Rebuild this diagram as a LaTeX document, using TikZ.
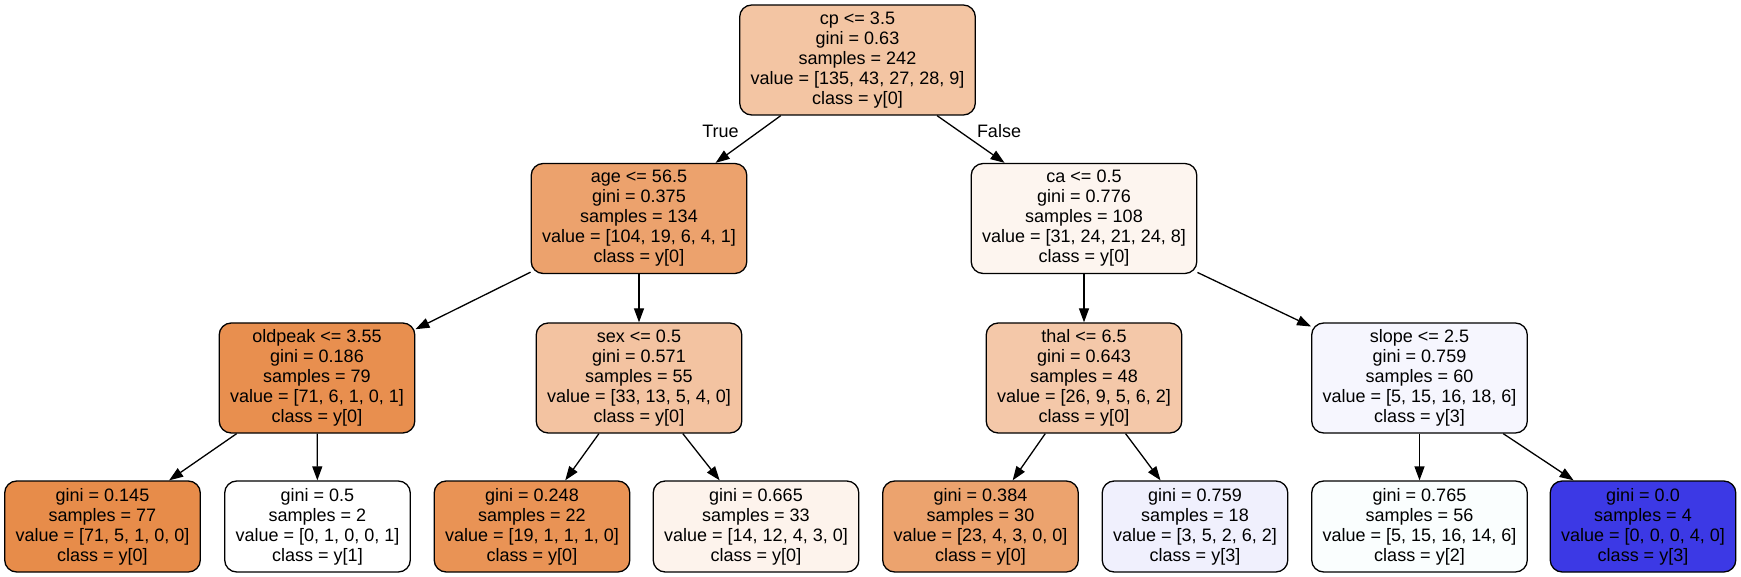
\documentclass[tikz,border=0pt]{standalone}
\usepackage{fontspec}
\setmainfont{Liberation Sans}
\usetikzlibrary{arrows.meta}

% fill colours of the nodes
\definecolor{fillRoot}{RGB}{243,197,163}
\definecolor{fillAge}{RGB}{236,162,109}
\definecolor{fillCa}{RGB}{253,245,239}
\definecolor{fillOldpeak}{RGB}{232,143,79}
\definecolor{fillSex}{RGB}{243,195,161}
\definecolor{fillThal}{RGB}{244,200,169}
\definecolor{fillSlope}{RGB}{246,246,254}
\definecolor{fillLeafA}{RGB}{231,140,74}
\definecolor{fillLeafB}{RGB}{255,255,255}
\definecolor{fillLeafC}{RGB}{233,147,85}
\definecolor{fillLeafD}{RGB}{253,243,236}
\definecolor{fillLeafE}{RGB}{236,163,110}
\definecolor{fillLeafF}{RGB}{240,240,253}
\definecolor{fillLeafG}{RGB}{250,254,254}
\definecolor{fillLeafH}{RGB}{60,57,229}

\tikzset{
  treenode/.style={draw=black, line width=0.65pt, rounded corners=6pt, align=center,
    inner xsep=5.5pt, inner ysep=0pt, font=\fontsize{9}{10}\selectfont},
  split/.style={treenode, minimum height=55pt},
  leaf/.style={treenode, minimum height=45.5pt},
  edgelabel/.style={font=\fontsize{9}{10}\selectfont, inner sep=0pt},
}

\begin{document}
\begin{tikzpicture}[x=0.5pt, y=-0.5pt, >={Triangle[length=7pt,width=5pt]}, line width=0.65pt]
  \useasboundingbox (0,0) rectangle (1741,577);
  % root
  \node[split, fill=fillRoot] (root) at (857.5,60)
    {cp <= 3.5 \\ gini = 0.63 \\ samples = 242 \\ value = [135, 43, 27, 28, 9] \\ class = y[0]};
  % first level
  \node[split, fill=fillAge] (age) at (639,218.5)
    {age <= 56.5 \\ gini = 0.375 \\ samples = 134 \\ value = [104, 19, 6, 4, 1] \\ class = y[0]};
  \node[split, fill=fillCa] (ca) at (1084,218.5)
    {ca <= 0.5 \\ gini = 0.776 \\ samples = 108 \\ value = [31, 24, 21, 24, 8] \\ class = y[0]};
  % second level
  \node[split, fill=fillOldpeak] (oldpeak) at (317,378)
    {oldpeak <= 3.55 \\ gini = 0.186 \\ samples = 79 \\ value = [71, 6, 1, 0, 1] \\ class = y[0]};
  \node[split, fill=fillSex] (sex) at (639,378)
    {sex <= 0.5 \\ gini = 0.571 \\ samples = 55 \\ value = [33, 13, 5, 4, 0] \\ class = y[0]};
  \node[split, fill=fillThal] (thal) at (1084,378)
    {thal <= 6.5 \\ gini = 0.643 \\ samples = 48 \\ value = [26, 9, 5, 6, 2] \\ class = y[0]};
  \node[split, fill=fillSlope] (slope) at (1419.5,378)
    {slope <= 2.5 \\ gini = 0.759 \\ samples = 60 \\ value = [5, 15, 16, 18, 6] \\ class = y[3]};
  % leaves
  \node[leaf, fill=fillLeafA] (leafA) at (102.5,526.5)
    {gini = 0.145 \\ samples = 77 \\ value = [71, 5, 1, 0, 0] \\ class = y[0]};
  \node[leaf, fill=fillLeafB] (leafB) at (317.5,526.5)
    {gini = 0.5 \\ samples = 2 \\ value = [0, 1, 0, 0, 1] \\ class = y[1]};
  \node[leaf, fill=fillLeafC] (leafC) at (532,526.5)
    {gini = 0.248 \\ samples = 22 \\ value = [19, 1, 1, 1, 0] \\ class = y[0]};
  \node[leaf, fill=fillLeafD] (leafD) at (756,526.5)
    {gini = 0.665 \\ samples = 33 \\ value = [14, 12, 4, 3, 0] \\ class = y[0]};
  \node[leaf, fill=fillLeafE] (leafE) at (980.5,526.5)
    {gini = 0.384 \\ samples = 30 \\ value = [23, 4, 3, 0, 0] \\ class = y[0]};
  \node[leaf, fill=fillLeafF] (leafF) at (1195,526.5)
    {gini = 0.759 \\ samples = 18 \\ value = [3, 5, 2, 6, 2] \\ class = y[3]};
  \node[leaf, fill=fillLeafG] (leafG) at (1419.5,526.5)
    {gini = 0.765 \\ samples = 56 \\ value = [5, 15, 16, 14, 6] \\ class = y[2]};
  \node[leaf, fill=fillLeafH] (leafH) at (1643,526.5)
    {gini = 0.0 \\ samples = 4 \\ value = [0, 0, 0, 4, 0] \\ class = y[3]};
  % edges
  \draw[->] (root) -- (age);
  \draw[->] (root) -- (ca);
  \node[edgelabel] (truelbl) at (720.5,131.5) {True};
  \node[edgelabel] (falselbl) at (999,131.5) {False};
  \draw[->] (age) -- (oldpeak);
  \draw[->] (age) -- (sex);
  \draw[->] (ca) -- (thal);
  \draw[->] (ca) -- (slope);
  \draw[->] (oldpeak) -- (leafA);
  \draw[->] (oldpeak) -- (leafB);
  \draw[->] (sex) -- (leafC);
  \draw[->] (sex) -- (leafD);
  \draw[->] (thal) -- (leafE);
  \draw[->] (thal) -- (leafF);
  \draw[->] (slope) -- (leafG);
  \draw[->] (slope) -- (leafH);
\end{tikzpicture}
\end{document}
